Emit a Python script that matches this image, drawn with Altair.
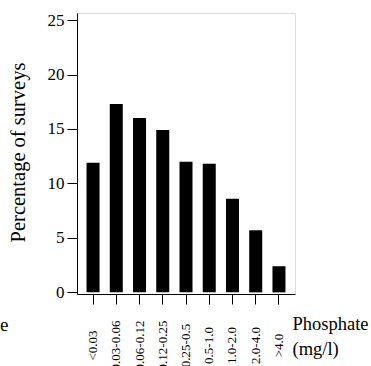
import altair as alt
import pandas as pd

# Phosphate concentration classes and share of surveys in each
classes = ["<0.03", "0.03-0.06", "0.06-0.12", "0.12-0.25", "0.25-0.5",
           "0.5-1.0", "1.0-2.0", "2.0-4.0", ">4.0"]
percent = [11.9, 17.3, 16.0, 14.9, 12.0, 11.8, 8.6, 5.7, 2.4]
y_ticks = [0, 5, 10, 15, 20, 25]

df = pd.DataFrame({"cls": classes, "pct": percent})

FONT = "Liberation Serif"

bars = alt.Chart(df).mark_bar(color="black").encode(
    x=alt.X(
        "cls:N",
        sort=None,
        scale=alt.Scale(paddingInner=0.44, paddingOuter=0.41),
        axis=alt.Axis(
            title=["Phosphate", "(mg/l)"],
            titleFontSize=18.5, titleFontWeight="normal",
            titleColor="black", titleAlign="left", titleAnchor="start",
            titleBaseline="alphabetic", titleX=215, titleY=35,
            titleLineHeight=25,
            labelFontSize=13, labelColor="black",
            labelAngle=270, labelAlign="center", labelBaseline="middle",
            labelPadding=41, tickSize=10, tickColor="black",
            domainColor="black", domainWidth=1, grid=False,
        ),
    ),
    y=alt.Y(
        "pct:Q",
        scale=alt.Scale(domain=[-0.15, 25.65], nice=False, zero=False),
        axis=alt.Axis(
            title="Percentage of surveys",
            titleFontSize=20.5, titleFontWeight="normal",
            titleColor="black", titleAngle=270, titleAlign="center",
            titleBaseline="middle", titleX=-59, titleY=139,
            values=y_ticks, labelFontSize=17,
            labelColor="black", labelPadding=3, tickSize=10,
            tickColor="black", domainColor="black", domainWidth=1,
            grid=False,
        ),
    ),
    y2=alt.datum(0),
)

# trailing letter of the neighbouring panel's axis caption
side_note = alt.Chart(pd.DataFrame({"t": ["e"]})).mark_text(
    font=FONT, fontSize=19, align="left", baseline="alphabetic", color="black"
).encode(x=alt.value(-77), y=alt.value(318), text="t:N")

chart = alt.layer(bars, side_note).properties(
    width=218,
    height=281,
    autosize=alt.AutoSizeParams(type="none"),
    padding={"left": 77, "top": 13, "right": 76, "bottom": 72},
).configure_axis(
    labelFont=FONT, titleFont=FONT,
).configure_text(
    font=FONT,
).configure_view(
    stroke="black", strokeWidth=1.4,
).configure(background="white", font=FONT)

chart.save("out.html", embed_options={"renderer": "svg", "actions": False})
